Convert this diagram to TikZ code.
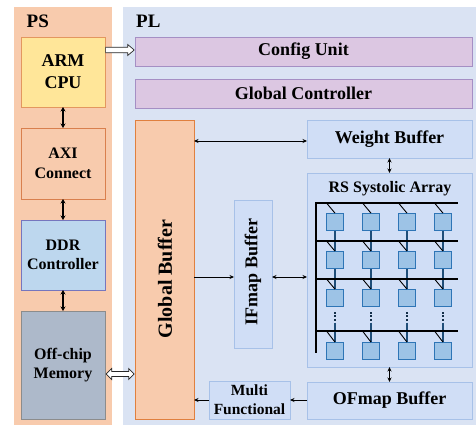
\documentclass[tikz,border=0pt]{standalone}
\usepackage{fontspec}
\setmainfont{Liberation Serif}[BoldFont={Liberation Serif Bold}]
\newfontfamily\tnr{Liberation Serif}[BoldFont={Liberation Serif Bold}]
\usetikzlibrary{arrows.meta,calc}
\definecolor{psbg}{HTML}{F8CBAD}
\definecolor{plbg}{HTML}{DAE3F3}
\definecolor{armfill}{HTML}{FFE699}
\definecolor{armdraw}{HTML}{E3975F}
\definecolor{axidraw}{HTML}{D9804E}
\definecolor{ddrfill}{HTML}{BDD7EE}
\definecolor{ddrdraw}{HTML}{7676BE}
\definecolor{memfill}{HTML}{ADB9CA}
\definecolor{memdraw}{HTML}{8C8C8C}
\definecolor{purfill}{HTML}{DCC7E2}
\definecolor{purdraw}{HTML}{A58FC4}
\definecolor{gbdraw}{HTML}{E0803F}
\definecolor{bluefill}{HTML}{D0DEF6}
\definecolor{bluedraw}{HTML}{A7C1E8}
\definecolor{pefill}{HTML}{9DC3E6}
\definecolor{pedraw}{HTML}{2E75B6}
\definecolor{pelink}{HTML}{1F4E79}
\newcommand{\txtA}{\tnr\bfseries\fontsize{16}{19.5}\selectfont}
\newcommand{\txtB}{\tnr\bfseries\fontsize{18}{22}\selectfont}
\begin{document}
\begin{tikzpicture}[x=1pt,y=-1pt,
  panel/.style={anchor=north west, inner sep=0pt, outer sep=0pt},
  box/.style={draw, line width=0.8pt, anchor=north west, inner sep=0pt, outer sep=0pt, align=center,
    font=\txtA},
  bigtxt/.style={font=\txtB},
  pe/.style={draw=pedraw, fill=pefill, line width=0.7pt, minimum size=17pt, inner sep=0pt},
  darr/.style={line width=0.8pt, {Stealth[length=4.5pt,width=4pt]}-{Stealth[length=4.5pt,width=4pt]}},
  sarr/.style={line width=0.8pt, -{Stealth[length=4.5pt,width=4pt]}},
  varr/.style={line width=1.3pt, {Stealth[length=4.5pt,width=5pt]}-{Stealth[length=4.5pt,width=5pt]}},
  hollow/.style={draw=black!85, fill=white, line width=0.7pt, line join=miter}
]
\useasboundingbox (0,0) rectangle (476,425);
% panels
\node[panel, fill=psbg, minimum width=98pt, minimum height=418pt] (ps) at (14,7) {};
\node[panel, fill=plbg, minimum width=353pt, minimum height=418pt] (pl) at (123,7) {};
\node[anchor=base west, inner sep=0pt, font=\tnr\bfseries\fontsize{19}{22}\selectfont] (pslabel) at (26.5,28) {PS};
\node[anchor=base west, inner sep=0pt, font=\tnr\bfseries\fontsize{19}{22}\selectfont] (pllabel) at (136,28) {PL};
% PS boxes
\node[box, bigtxt, fill=armfill, draw=armdraw, minimum width=84pt, minimum height=70pt] (arm) at (21,37) {ARM\\CPU};
\node[box, fill=psbg, draw=axidraw, minimum width=84pt, minimum height=71pt] (axi) at (21,128) {AXI\\Connect};
\node[box, fill=ddrfill, draw=ddrdraw, minimum width=84pt, minimum height=70pt] (ddr) at (21,220) {DDR\\Controller};
\node[box, fill=memfill, draw=memdraw, minimum width=84pt, minimum height=108pt] (mem) at (21,311) {Off-chip\\Memory};
% PL boxes
\node[box, bigtxt, fill=purfill, draw=purdraw, minimum width=337pt, minimum height=29pt] (cfg) at (135,37) {Config Unit};
\node[box, bigtxt, fill=purfill, draw=purdraw, minimum width=337pt, minimum height=29pt] (gc) at (135,79) {Global Controller};
\node[box, fill=psbg, draw=gbdraw, minimum width=59pt, minimum height=299pt] (gb) at (135,120) {};
\node[rotate=90, inner sep=0pt, font=\tnr\bfseries\fontsize{20}{22}\selectfont] (gbtxt) at (165,279) {Global Buffer};
\node[box, bigtxt, fill=bluefill, draw=bluedraw, minimum width=165pt, minimum height=38pt] (wb) at (307,120) {Weight Buffer};
\node[box, fill=bluefill, draw=bluedraw, minimum width=165pt, minimum height=194pt] (sa) at (307,173) {};
\node[inner sep=0pt, font=\tnr\bfseries\fontsize{16}{19}\selectfont] (satxt) at (390,189) {RS Systolic Array};
\node[box, fill=bluefill, draw=bluedraw, minimum width=38pt, minimum height=148pt] (if) at (234,200) {};
\node[rotate=90, inner sep=0pt, bigtxt] (iftxt) at (253,272) {IFmap Buffer};
\node[box, bigtxt, fill=bluefill, draw=bluedraw, minimum width=165pt, minimum height=37pt] (of) at (307,382) {OFmap Buffer};
\node[box, fill=bluefill, draw=bluedraw, minimum width=81pt, minimum height=38pt,
  font=\tnr\bfseries\fontsize{15.5}{19}\selectfont] (mf) at (209,381) {Multi\\Functional};
% systolic array
\foreach \r/\cy in {1/222,2/260,3/298,4/351}
  \foreach \c/\cx in {1/335,2/371,3/407,4/443}
    \node[pe] (pe\r\c) at (\cx,\cy) {};
\foreach \c/\cx in {1/335,2/371,3/407,4/443}{
  \draw[pelink, line width=1.6pt] (pe1\c.south) -- (pe2\c.north);
  \draw[pelink, line width=1.6pt] (pe2\c.south) -- (pe3\c.north);
  \draw[pelink!60!black, line width=1.7pt, dash pattern=on 1.7pt off 1.7pt] (\cx,312) -- (\cx,322);
  \draw[pelink, line width=1.6pt] (\cx,322.5) -- (pe4\c.north);
}
\foreach \hy in {203,241,279,331}
  \draw[line width=1.2pt] (316,\hy) -- (458,\hy);
\draw[line width=1.3pt] (316,202) -- (316,353);
\foreach \r/\hy in {1/203,2/241,3/279,4/331}
  \foreach \c/\cx in {1/335,2/371,3/407,4/443}
    \draw[line width=0.9pt] (\cx-8.5,\hy) -- (pe\r\c.north);
% PS arrows
\draw[varr] (arm.south) -- (axi.north);
\draw[varr] (axi.south) -- (ddr.north);
\draw[varr] (ddr.south) -- (mem.north);
% PL arrows
\coordinate (ya) at (0,141);
\coordinate (yb) at (0,277);
\draw[darr] (gb.east |- ya) -- (wb.west |- ya);
\draw[sarr] (gb.east |- yb) -- (if.west |- yb);
\draw[darr] (if.east |- yb) -- (sa.west |- yb);
\draw[darr] (wb.south) -- (sa.north);
\draw[darr] (sa.south) -- (of.north);
\draw[sarr] (of.west |- mf.east) -- (mf.east);
\draw[sarr] (mf.west) -- (mf.west -| gb.east);
% hollow arrows
\coordinate (h1s) at ($(arm.north east)+(0.6,13)$);
\coordinate (h1e) at ($(cfg.west |- h1s)+(-0.8,0)$);
\draw[hollow] ($(h1s)+(0,-2.8)$) -- ($(h1e)+(-6.5,-2.8)$) -- ($(h1e)+(-6.5,-5.5)$) -- (h1e)
  -- ($(h1e)+(-6.5,5.5)$) -- ($(h1e)+(-6.5,2.8)$) -- ($(h1s)+(0,2.8)$) -- cycle;
\coordinate (h2s) at ($(mem.north east)+(1.2,63)$);
\coordinate (h2e) at ($(gb.west |- h2s)+(-0.8,0)$);
\draw[hollow] (h2s) -- ($(h2s)+(5.5,-5.5)$) -- ($(h2s)+(5.5,-2.5)$) -- ($(h2e)+(-5.5,-2.5)$)
  -- ($(h2e)+(-5.5,-5.5)$) -- (h2e) -- ($(h2e)+(-5.5,5.5)$) -- ($(h2e)+(-5.5,2.5)$)
  -- ($(h2s)+(5.5,2.5)$) -- ($(h2s)+(5.5,5.5)$) -- cycle;
\end{tikzpicture}
\end{document}
